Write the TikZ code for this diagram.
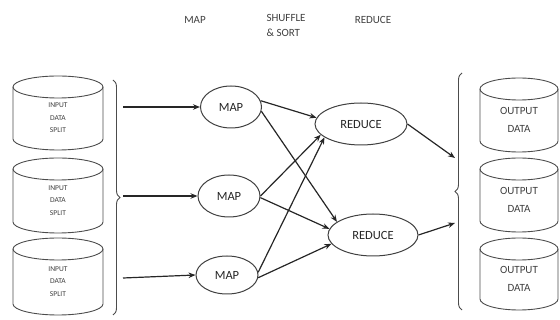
\documentclass[tikz,border=0pt]{standalone}
\usepackage{fontspec}
\setmainfont{Carlito}
\usetikzlibrary{shapes.geometric,arrows.meta,decorations.pathreplacing}
\tikzset{
  job/.style={draw=black!75, line width=1pt, ellipse, inner sep=0pt, text=black!85, font=\fontsize{12.5}{12.5}\selectfont},
  flow/.style={-{Stealth[length=7pt,width=5.5pt]}, line width=1.2pt, black!85},
  grp/.style={decorate, decoration={brace, amplitude=7pt}, line width=0.9pt, black!70},
  head/.style={text=black!75, font=\fontsize{11}{15}\selectfont}
}
% name, centre x, top, bottom, x radius, text, font size, line skip
\newcommand{\datacyl}[8]{%
  \draw[black!70, line width=0.9pt] (#2,#3+11) ellipse ({#5} and 11);
  \draw[black!70, line width=0.9pt] (#2-#5,#3+11) -- (#2-#5,#4-11)
     arc[start angle=180, end angle=0, x radius=#5, y radius=11] -- (#2+#5,#3+11);
  \node[align=center, text=black!75, font=\fontsize{#7}{#8}\selectfont] (#1) at (#2,{(#3+#4)/2+5}) {#6};
}
\begin{document}
\begin{tikzpicture}[x=1pt, y=-1pt]
\useasboundingbox (0,0) rectangle (560,320);

\node[head] (hmap) at (195,20) {MAP};
\node[head, align=left, anchor=north west] (hshuf) at (263,11) {SHUFFLE\\\& SORT};
\node[head] (hred) at (373,20) {REDUCE};

\datacyl{in1}{58}{76}{150}{45}{INPUT\\DATA\\SPLIT}{7.5}{12.5}
\datacyl{in2}{58}{158}{233}{45}{INPUT\\DATA\\SPLIT}{7.5}{12.5}
\datacyl{in3}{58}{238}{315}{45}{INPUT\\DATA\\SPLIT}{7.5}{12.5}
\draw[grp] (113,80) -- (113,315);

\datacyl{out1}{519}{78}{152}{39}{OUTPUT\\DATA}{11}{18}
\datacyl{out2}{519}{158}{232}{39}{OUTPUT\\DATA}{11}{18}
\datacyl{out3}{519}{238}{310}{39}{OUTPUT\\DATA}{11}{18}
\draw[grp] (462,310) -- (462,73);

\node[job, minimum width=61pt, minimum height=42pt] (m1) at (231,107) {MAP};
\node[job, minimum width=62pt, minimum height=42pt] (m2) at (229,196) {MAP};
\node[job, minimum width=62pt, minimum height=38pt] (m3) at (227,275) {MAP};
\node[job, minimum width=92pt, minimum height=42pt] (r1) at (361,124) {REDUCE};
\node[job, minimum width=90pt, minimum height=42pt] (r2) at (373,235) {REDUCE};

\coordinate (s1) at (123,107);
\coordinate (s2) at (123,196);
\coordinate (s3) at (123,278);
\coordinate (t1) at (455,158);
\coordinate (t2) at (455,223);

\draw[flow] (s1) -- (m1.west);
\draw[flow] (s2) -- (m2.west);
\draw[flow] (s3) -- (m3.west);

\draw[flow] (m1.12) -- (r1.172);
\draw[flow] (m1.-8) -- (r2.160);
\draw[flow] (m2.east) -- (r1.195);
\draw[flow] (m2.-3) -- (r2.172);
\draw[flow] (m3.5) -- (r1.200);
\draw[flow] (m3.-5) -- (r2.192);

\draw[flow] (r1.east) -- (t1);
\draw[flow] (r2.east) -- (t2);
\end{tikzpicture}
\end{document}
